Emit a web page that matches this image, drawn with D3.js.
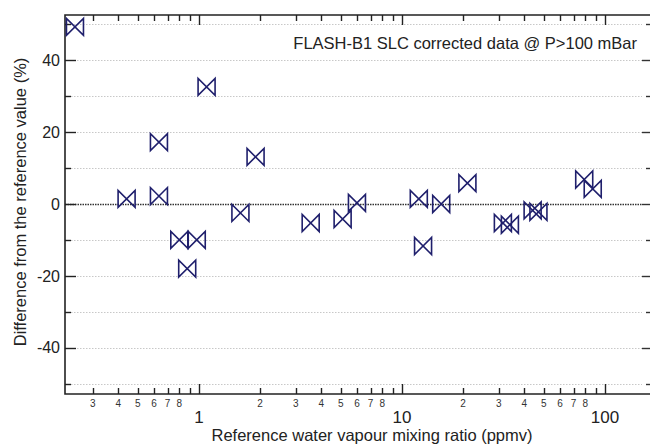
<!DOCTYPE html>
<html>
<head>
<meta charset="utf-8">
<script src="https://cdn.jsdelivr.net/npm/d3@7"></script>
<style>
  body { margin: 0; background: #fff; }
  svg { display: block; font-family: "Liberation Sans", Arial, sans-serif; }
</style>
</head>
<body>
<svg width="650" height="444"></svg>
<script>
// reference mixing ratio (ppmv)
var refPpmv = [0.245, 0.44, 0.635, 0.635, 0.8, 0.975, 0.875, 1.09, 1.6, 1.9,
               3.55, 5.1, 6.0, 12.1, 12.7, 15.6, 21, 31.4, 34, 44, 47, 79, 87];
// difference from reference (%)
var diffPct = [49.3, 1.4, 2.2, 17.2, -10, -10, -18, 32.6, -2.5, 13.1,
               -5.3, -4.2, 0.3, 1.4, -11.7, 0, 5.8, -5.3, -5.8, -1.8, -2.2, 6.8, 4.2];
var yMajor = [40, 20, 0, -20, -40];
var yMinor = [50, 30, 10, -10, -30, -50];
var gridVals = [50, 40, 30, 20, 10, -10, -20, -30, -40, -50];
var xMajor = [1, 10, 100];
var xMinorLabels = [2, 3, 4, 5, 6, 7, 8];
var legendText = "FLASH-B1 SLC corrected data @ P>100 mBar";

var svg = d3.select("svg"),
    pLeft = 65, pRight = 652, pTop = 15, pBottom = 394,
    ink = "#1f1f6c";

var x = d3.scaleLog().domain([0.2188, 170.4]).range([pLeft, pRight]);
var y = d3.scaleLinear().domain([-52.9, 52.6]).range([pBottom, pTop]);

// minor tick values on the log axis
var xTicks = [];
[0.1, 1, 10, 100].forEach(function(dec) {
  for (var k = 1; k <= 9; k++) {
    var v = dec * k;
    if (v >= x.domain()[0] && v <= x.domain()[1]) xTicks.push(v);
  }
});
var isMajor = function(v) { return xMajor.some(function(m) { return Math.abs(m - v) < 1e-9; }); };
var mant = function(v) { return Math.round(v / Math.pow(10, Math.floor(Math.log10(v) + 1e-9))); };

// gridlines
svg.append("g").selectAll("line")
  .data(gridVals)
  .enter().append("line")
    .attr("x1", pLeft).attr("x2", 642)
    .attr("y1", function(d) { return Math.round(y(d)) + 0.5; })
    .attr("y2", function(d) { return Math.round(y(d)) + 0.5; })
    .attr("stroke", "#c8c8c8")
    .attr("stroke-width", 1)
    .attr("stroke-dasharray", "1.5,1.5");

svg.append("line")
    .attr("x1", pLeft).attr("x2", 642)
    .attr("y1", Math.round(y(0)) + 0.5).attr("y2", Math.round(y(0)) + 0.5)
    .attr("stroke", "#333")
    .attr("stroke-width", 1.3)
    .attr("stroke-dasharray", "1.5,1");

// frame
svg.append("path")
    .attr("d", "M" + pRight + "," + pTop + "H" + pLeft + "V" + pBottom + "H" + pRight)
    .attr("fill", "none")
    .attr("stroke", "#222")
    .attr("stroke-width", 1.6);

// x ticks, bottom and top (inward)
var xt = svg.append("g");
xTicks.forEach(function(v) {
  var len = isMajor(v) ? 10 : 6, px = Math.round(x(v)) + 0.5;
  xt.append("line").attr("x1", px).attr("x2", px)
    .attr("y1", pBottom).attr("y2", pBottom - len)
    .attr("stroke", "#222").attr("stroke-width", 1.4);
  xt.append("line").attr("x1", px).attr("x2", px)
    .attr("y1", pTop).attr("y2", pTop + len)
    .attr("stroke", "#222").attr("stroke-width", 1.4);
});

// y ticks left and right
var yt = svg.append("g");
yMajor.concat(yMinor).forEach(function(v) {
  var major = yMajor.indexOf(v) >= 0, py = Math.round(y(v)) + 0.5;
  yt.append("line").attr("x1", pLeft).attr("x2", pLeft + (major ? 11 : 6))
    .attr("y1", py).attr("y2", py)
    .attr("stroke", "#222").attr("stroke-width", 1.4);
  yt.append("line").attr("x1", 650).attr("x2", major ? 642 : 646)
    .attr("y1", py).attr("y2", py)
    .attr("stroke", "#333").attr("stroke-width", 1.4);
});

// y tick labels
svg.append("g").selectAll("text")
  .data(yMajor)
  .enter().append("text")
    .attr("x", 60)
    .attr("y", function(d) { return y(d); })
    .attr("dy", "0.36em")
    .attr("text-anchor", "end")
    .attr("font-size", 16)
    .attr("fill", "#222")
    .text(function(d) { return d < 0 ? "-" + Math.abs(d) : d; });

// x tick labels
var minorVals = xTicks.filter(function(v) {
  return !isMajor(v) && xMinorLabels.indexOf(mant(v)) >= 0;
});
svg.append("g").selectAll("text")
  .data(minorVals)
  .enter().append("text")
    .attr("x", function(d) { return x(d); })
    .attr("y", 407)
    .attr("text-anchor", "middle")
    .attr("font-size", 10)
    .attr("fill", "#333")
    .text(function(d) { return mant(d); });

svg.append("g").selectAll("text")
  .data(xMajor)
  .enter().append("text")
    .attr("x", function(d) { return x(d); })
    .attr("y", 423)
    .attr("text-anchor", "middle")
    .attr("font-size", 17)
    .attr("fill", "#222")
    .text(function(d) { return d; });

// axis titles
svg.append("text")
    .attr("x", 372).attr("y", 441)
    .attr("text-anchor", "middle")
    .attr("font-size", 16.5)
    .attr("fill", "#222")
    .text("Reference water vapour mixing ratio (ppmv)");

svg.append("text")
    .attr("transform", "translate(26,202) rotate(-90)")
    .attr("text-anchor", "middle")
    .attr("font-size", 16.5)
    .attr("fill", "#222")
    .text("Difference from the reference value (%)");

// legend label
svg.append("text")
    .attr("x", 637).attr("y", 49)
    .attr("text-anchor", "end")
    .attr("font-size", 16.5)
    .attr("fill", "#222")
    .text(legendText);

// bowtie markers
var pts = refPpmv.map(function(v, i) { return [v, diffPct[i]]; });
var hw = 8.5, hh = 8.5;
svg.append("g").selectAll("path")
  .data(pts)
  .enter().append("path")
    .attr("d", function(d) {
      var cx = x(d[0]), cy = y(d[1]);
      return "M" + (cx - hw) + "," + (cy - hh) + "L" + (cx - hw) + "," + (cy + hh) +
             "L" + (cx + hw) + "," + (cy - hh) + "L" + (cx + hw) + "," + (cy + hh) + "Z";
    })
    .attr("fill", "none")
    .attr("stroke", ink)
    .attr("stroke-width", 1.6)
    .attr("stroke-linejoin", "miter");
</script>
</body>
</html>
